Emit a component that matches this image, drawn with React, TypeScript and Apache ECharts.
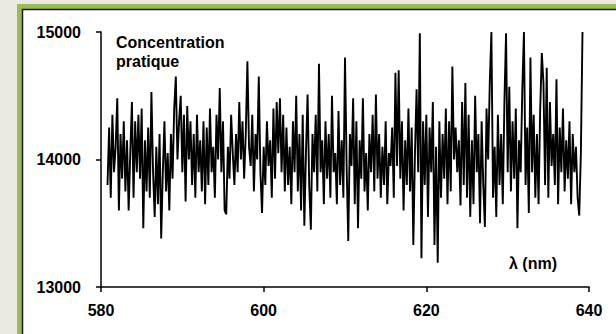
import React, { useEffect, useRef } from "react";
import * as echarts from "echarts";

const wavelengthStart = 580.8;
const wavelengthStep = 0.2;
const concentration: number[] = [
  13800, 14250, 13700, 14350, 13900,
  14100, 14480, 13600, 14200, 13850,
  14300, 13750, 14150, 13600, 14050,
  14450, 13700, 14300, 13900, 14350,
  13850, 14400, 13460, 14150, 13750,
  14250, 13700, 14530, 13900, 13550,
  14100, 13650, 14200, 13380, 13900,
  14300, 13750, 14050, 13600, 14200,
  13850, 14400, 14650, 14000, 14300,
  14500, 13900, 14350, 13670, 14420,
  14000, 14300, 13800, 14200, 13700,
  14350, 13900, 14150, 13750, 14300,
  13650, 14250, 13800, 14400, 13900,
  14100, 13700, 14350, 14000, 14560,
  13900, 14300, 13600, 13570, 14100,
  13850, 14350, 14050, 13800, 14200,
  13900, 14450, 14000, 14300, 13850,
  14200, 14770, 14100, 13950, 14350,
  13750, 14200, 14000, 14650, 13900,
  13580, 14100, 13800, 14300, 13950,
  14150, 13700, 14400, 13850, 14450,
  14050, 14480, 13900, 14350, 13750,
  14250, 13800, 14100, 13650, 14300,
  13900, 14500, 13750, 14200, 13600,
  14350, 13480, 14050, 14510, 13800,
  13450, 14200, 13900, 14350, 13750,
  14750, 13900, 14150, 13650, 14300,
  13850, 14200, 13700, 14500, 13900,
  14050, 13650, 14380, 13800, 14150,
  13700, 14800, 13950, 13360, 14200,
  13950, 14480, 13650, 14300, 13460,
  14150, 13850, 14480, 13750, 14050,
  13600, 14200, 13900, 14350, 13750,
  14510, 13850, 14200, 13700, 14100,
  13800, 14300, 13650, 14050, 13950,
  14250, 13700, 14680, 13950, 14700,
  13850, 14300, 13600, 14150, 13800,
  14400, 13750, 14250, 13330, 14050,
  14550, 13900, 14990, 13225, 14300,
  13800, 14350, 13550, 14250, 13900,
  14450, 13330, 14100, 13190, 14300,
  13700, 14200, 13850, 14400, 13650,
  14300, 13750, 14730, 14000, 14250,
  13900, 14150, 13640, 14450, 13800,
  14600, 13700, 14350, 13550, 14150,
  13650, 14500, 13900, 14200, 13500,
  14300, 13800, 13470, 14400, 14000,
  14600, 15000, 13700, 14100, 13550,
  14350, 13800, 14200, 13650, 14450,
  14990, 13900, 14570, 13750, 14300,
  13850, 14400, 13460, 14150, 13900,
  14550, 15000, 13800, 14250, 13580,
  14800, 13900, 14350, 13700, 14200,
  13650, 14400, 14835, 14600, 13800,
  14720, 13700, 14450, 13950, 14200,
  13800, 14630, 13650, 14250, 13900,
  14400, 13750, 14150, 13850, 14300,
  13650, 14200, 13900, 14100, 13700,
  13560, 14050, 15000,
];
const xTicks = [580, 600, 620, 640];
const yTicks = [13000, 14000, 15000];
const seriesLabel = ["Concentration", "pratique"];
const xAxisTitle = "λ (nm)";

const FONT = "Arial, 'Liberation Sans', sans-serif";

export default function App() {
  const ref = useRef<HTMLDivElement>(null);
  useEffect(() => {
    document.body.style.margin = "0";
    const chart = echarts.init(ref.current!, null, { renderer: "svg" });
    const data = concentration.map((v, i) => [
      +(wavelengthStart + i * wavelengthStep).toFixed(1),
      v,
    ]);
    chart.setOption({
      animation: false,
      backgroundColor: "#ECE9E2",
      graphic: [
        {
          type: "rect",
          z: -10,
          shape: { x: 17, y: 4, width: 700, height: 400 },
          style: { fill: "#9BBB59" },
          silent: true,
        },
        {
          type: "rect",
          z: -9,
          shape: { x: 22.5, y: 9.5, width: 700, height: 400 },
          style: { fill: "#FFFFFF", stroke: "#1a1a1a", lineWidth: 1.5 },
          silent: true,
        },
        {
          type: "text",
          left: 116,
          top: 33,
          style: {
            text: seriesLabel.join("\n"),
            font: `bold 16px ${FONT}`,
            lineHeight: 19,
            fill: "#000",
          },
        },
        {
          type: "text",
          left: 509,
          top: 255,
          style: {
            text: xAxisTitle,
            font: `bold 16px ${FONT}`,
            fill: "#000",
          },
        },
      ],
      grid: { left: 101, top: 32, right: 27, bottom: 47, containLabel: false },
      xAxis: {
        type: "value",
        min: xTicks[0],
        max: xTicks[xTicks.length - 1],
        interval: xTicks[1] - xTicks[0],
        axisLine: { show: true, onZero: false, lineStyle: { color: "#000", width: 1.5 } },
        axisTick: { show: true, inside: false, length: 5, lineStyle: { color: "#000", width: 1.5 } },
        axisLabel: {
          color: "#000",
          fontWeight: "bold",
          fontSize: 16,
          fontFamily: FONT,
          margin: 15,
          formatter: (v: number) => String(v),
        },
        splitLine: { show: false },
      },
      yAxis: {
        type: "value",
        min: yTicks[0],
        max: yTicks[yTicks.length - 1],
        interval: yTicks[1] - yTicks[0],
        axisLine: { show: true, lineStyle: { color: "#000", width: 1.5 } },
        axisTick: { show: true, inside: false, length: 5, lineStyle: { color: "#000", width: 1.5 } },
        axisLabel: {
          color: "#000",
          fontWeight: "bold",
          fontSize: 16,
          fontFamily: FONT,
          margin: 20,
          formatter: (v: number) => String(v),
        },
        splitLine: { show: false },
      },
      series: [
        {
          type: "line",
          data,
          symbol: "none",
          clip: true,
          lineStyle: { color: "#000", width: 1.9 },
        },
      ],
    });
    return () => chart.dispose();
  }, []);
  return (
    <div
      ref={ref}
      style={{ position: "absolute", left: 0, top: 0, width: 616, height: 334 }}
    />
  );
}
